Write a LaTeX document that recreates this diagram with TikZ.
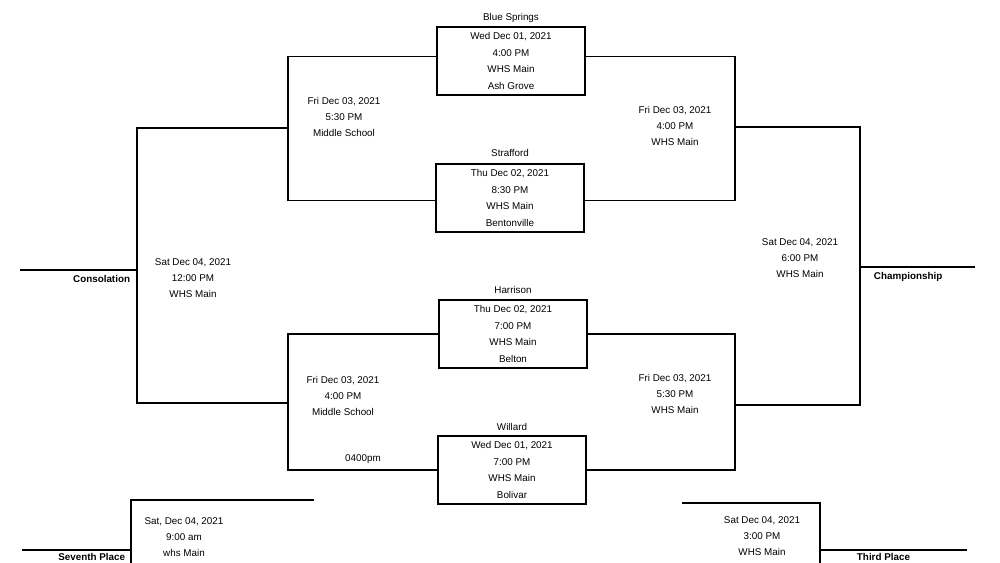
\documentclass[tikz,border=0pt]{standalone}
\usepackage{fontspec}
\setmainfont{Liberation Sans}

\tikzset{
  game/.style={draw, line width=0.9pt, minimum width=3.7cm, minimum height=1.7cm, inner sep=0pt, align=center, font=\fontsize{7}{11.7}\selectfont},
  info/.style={align=center, font=\fontsize{7}{11.5}\selectfont},
  team/.style={font=\fontsize{7}{8}\selectfont},
  placelabel/.style={font=\bfseries\fontsize{7}{8}\selectfont},
  bracket/.style={line width=0.9pt},
}

\begin{document}
\begin{tikzpicture}[x=0.025cm,y=-0.025cm]
\useasboundingbox (0,0) rectangle (1000,563);

% first round games
\node[game] (g1) at (511,61)  {Wed Dec 01, 2021\\4:00 PM\\WHS Main\\Ash Grove};
\node[game] (g2) at (510,198) {Thu Dec 02, 2021\\8:30 PM\\WHS Main\\Bentonville};
\node[game] (g3) at (513,334) {Thu Dec 02, 2021\\7:00 PM\\WHS Main\\Belton};
\node[game] (g4) at (512,470) {Wed Dec 01, 2021\\7:00 PM\\WHS Main\\Bolivar};

\node[team] (t1) at (511,18)  {Blue Springs};
\node[team] (t2) at (510,153) {Strafford};
\node[team] (t3) at (513,290) {Harrison};
\node[team] (t4) at (512,427) {Willard};

% bracket corners
\coordinate (qa) at (288,128);
\coordinate (qb) at (288,403);
\coordinate (qc) at (735,127);
\coordinate (qd) at (735,405);
\coordinate (ca) at (137,128);
\coordinate (cb) at (137,403);
\coordinate (cc) at (20,270);  %consolation end
\coordinate (sa) at (860,127);
\coordinate (sb) at (860,405);
\coordinate (sc) at (975,267); %championship end

\draw[bracket] ([yshift=1.1mm]g1.west) -| (qa) |- ([yshift=-0.6mm]g2.west);
\draw[bracket] (g3.west) -| (qb) |- (g4.west);
\draw[bracket] ([yshift=1.1mm]g1.east) -| (qc) |- ([yshift=-0.6mm]g2.east);
\draw[bracket] (g3.east) -| (qd) |- (g4.east);
\draw[bracket] (qa) -- (ca) -- (cb) -- (qb);
\draw[bracket] (qc) -- (sa) -- (sb) -- (qd);
\draw[bracket] (cc) -- (cc -| ca);
\draw[bracket] (sc) -- (sc -| sa);

% placing games
\coordinate (ea) at (314,500);
\coordinate (eb) at (131,500);
\coordinate (ec) at (131,570);
\coordinate (ed) at (22,550);  %seventh place end
\coordinate (ta) at (682,503);
\coordinate (tb) at (820,503);
\coordinate (tc) at (820,570);
\coordinate (td) at (967,550); %third place end

\draw[bracket] (ea) -- (eb) -- (ec);
\draw[bracket] (ed) -- (ed -| eb);
\draw[bracket] (ta) -- (tb) -- (tc);
\draw[bracket] (td) -- (td -| tb);

% game times
\node[info] (d1) at (344,117) {Fri Dec 03, 2021\\5:30 PM\\Middle School};
\node[info] (d2) at (675,126) {Fri Dec 03, 2021\\4:00 PM\\WHS Main};
\node[info] (d3) at (343,396) {Fri Dec 03, 2021\\4:00 PM\\Middle School};
\node[info] (d4) at (675,394) {Fri Dec 03, 2021\\5:30 PM\\WHS Main};
\node[info] (d5) at (193,278) {Sat Dec 04, 2021\\12:00 PM\\WHS Main};
\node[info] (d6) at (800,258) {Sat Dec 04, 2021\\6:00 PM\\WHS Main};
\node[info] (d7) at (184,537) {Sat, Dec 04, 2021\\9:00 am\\whs Main};
\node[info] (d8) at (762,536) {Sat Dec 04, 2021\\3:00 PM\\WHS Main};
\node[info] (n1) at (363,459) {0400pm};

\node[placelabel,anchor=east] (p1) at (135,279) {Consolation};
\node[placelabel,anchor=west] (p2) at (869,277) {Championship};
\node[placelabel,anchor=east] (p3) at (130,557) {Seventh Place};
\node[placelabel,anchor=west] (p4) at (852,557) {Third Place};

\end{tikzpicture}
\end{document}
